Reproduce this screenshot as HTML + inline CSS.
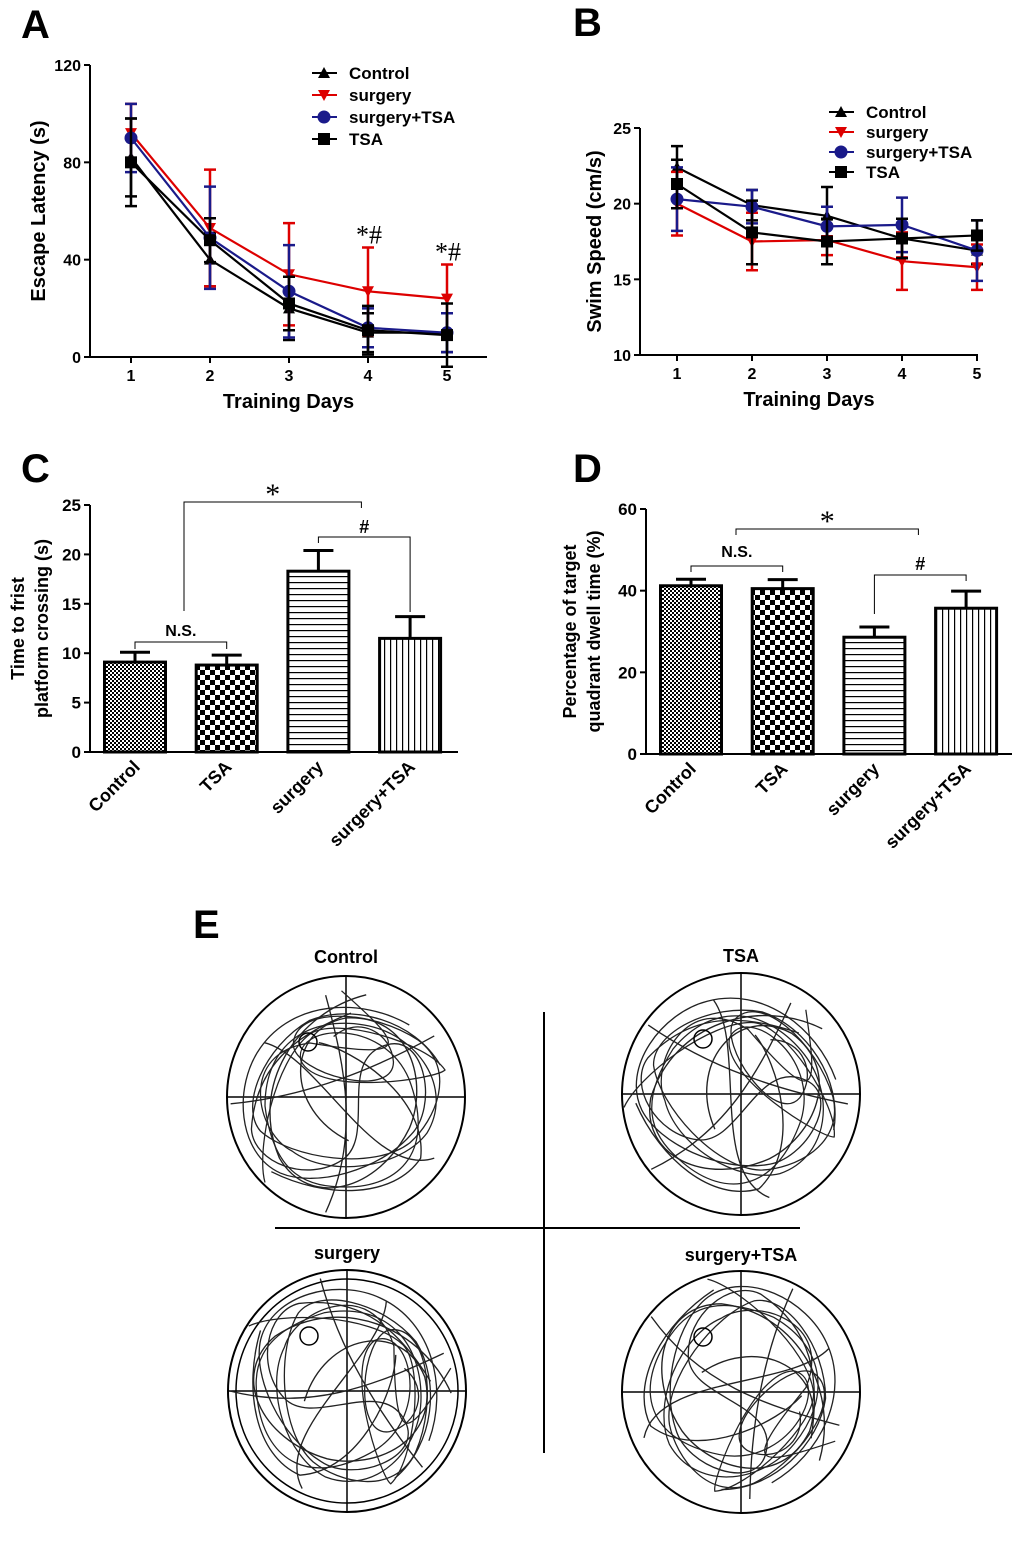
<!DOCTYPE html>
<html><head><meta charset="utf-8">
<style>
html,body{margin:0;padding:0;background:#fff;}
svg{display:block;font-family:"Liberation Sans",Arial,sans-serif;}
</style></head>
<body>
<svg id="fig" width="1020" height="1563" viewBox="0 0 1020 1563" xmlns="http://www.w3.org/2000/svg">
<defs>
  <pattern id="pFine" width="4" height="4" patternUnits="userSpaceOnUse"><rect width="4" height="4" fill="#fff"/><rect width="2" height="2" fill="#000"/><rect x="2" y="2" width="2" height="2" fill="#000"/></pattern>
  <pattern id="pCheck" width="10" height="10" patternUnits="userSpaceOnUse"><rect width="10" height="10" fill="#fff"/><rect width="5" height="5" fill="#000"/><rect x="5" y="5" width="5" height="5" fill="#000"/></pattern>
  <pattern id="pHor" width="6" height="6" patternUnits="userSpaceOnUse"><rect width="6" height="6" fill="#fff"/><rect y="0" width="6" height="1.2" fill="#000"/></pattern>
  <pattern id="pVer" width="6" height="6" patternUnits="userSpaceOnUse"><rect width="6" height="6" fill="#fff"/><rect x="0" width="1.2" height="6" fill="#000"/></pattern>
</defs>
<g font-weight="bold" font-size="40">
  <text x="21" y="38">A</text>
  <text x="573" y="36">B</text>
  <text x="21" y="482">C</text>
  <text x="573" y="482">D</text>
  <text x="193" y="938">E</text>
</g>
<g id="chartA"></g>
<g id="chartB"></g>
<g id="chartC"></g>
<g id="chartD"></g>
<g id="panelE"></g>
</svg>
<script>
// ---- Panel A data ----
const daysA = [1,2,3,4,5];
const aControl = [82,40,20,10,10];
const aSurgery = [92,53,34,27,24];
const aSurgTSA = [90,49,27,12,10];
const aTSA = [80,48,22,11,9];
const aControlErr = [16,11,13,8,8];
const aSurgeryErr = [12,24,21,18,14];
const aSurgTSAErr = [14,21,19,8,8];
const aTSAErr = [18,9,11,10,13];
const aTicks = [0,40,80,120];
// ---- Panel B data ----
const bControl = [22.4,19.9,19.2,17.7,16.9];
const bSurgery = [20.0,17.5,17.6,16.2,15.8];
const bSurgTSA = [20.3,19.8,18.5,18.6,16.9];
const bTSA = [21.3,18.1,17.5,17.7,17.9];
const bControlErr = [1.4,1.0,1.9,1.3,0.9];
const bSurgeryErr = [2.1,1.9,1.0,1.9,1.5];
const bSurgTSAErr = [2.1,1.1,1.3,1.8,2.0];
const bTSAErr = [1.6,2.1,1.5,1.3,1.0];
const bTicks = [10,15,20,25];
// ---- Panel C/D data ----
const barCats = ["Control","TSA","surgery","surgery+TSA"];
const cVals = [9.1,8.8,18.3,11.5];
const cErr = [1.0,1.0,2.1,2.2];
const cTicks = [0,5,10,15,20,25];
const dVals = [41.2,40.5,28.6,35.7];
const dErr = [1.6,2.2,2.5,4.2];
const dTicks = [0,20,40,60];
const legendNames = ["Control","surgery","surgery+TSA","TSA"];

const NS="http://www.w3.org/2000/svg";
function mk(parent,tag,attrs,text){const e=document.createElementNS(NS,tag);for(const k in attrs)e.setAttribute(k,attrs[k]);if(text!==undefined)e.textContent=text;parent.appendChild(e);return e;}

function marker(g,type,x,y,color){
  let m;
  if(type==="tri") m=mk(g,"polygon",{points:`${x},${y-6} ${x-6},${y+5} ${x+6},${y+5}`,fill:color});
  else if(type==="inv") m=mk(g,"polygon",{points:`${x},${y+6} ${x-6},${y-5} ${x+6},${y-5}`,fill:color});
  else if(type==="circ") m=mk(g,"circle",{cx:x,cy:y,r:6.5,fill:color});
  else m=mk(g,"rect",{x:x-6,y:y-6,width:12,height:12,fill:color});
  
  
  return m;
}

function lineChart(id,cfg){
  const g=document.getElementById(id);
  const X=d=>cfg.x0+(d-1)*cfg.dx;
  const Y=v=>cfg.yb-(v-cfg.ymin)/(cfg.ymax-cfg.ymin)*(cfg.yb-cfg.yt);
  const ax=mk(g,"path",{d:`M${cfg.ax},${cfg.yt}V${cfg.yb}H${cfg.xend}`,stroke:"#000","stroke-width":2,fill:"none"});
  
  
  cfg.ticks.forEach(t=>{
    mk(g,"line",{x1:cfg.ax-6,x2:cfg.ax,y1:Y(t),y2:Y(t),stroke:"#000","stroke-width":2});
    const tl=mk(g,"text",{x:cfg.ax-9,y:Y(t)+6,"text-anchor":"end","font-size":16,"font-weight":"bold"},String(t));
    
    
  });
  daysA.forEach(d=>{
    mk(g,"line",{x1:X(d),x2:X(d),y1:cfg.yb,y2:cfg.yb+6,stroke:"#000","stroke-width":2});
    const tl=mk(g,"text",{x:X(d),y:cfg.yb+24,"text-anchor":"middle","font-size":16,"font-weight":"bold"},String(d));
    
    
  });
  const xt=mk(g,"text",{x:(cfg.ax+cfg.xend)/2,y:cfg.yb+51,"text-anchor":"middle","font-size":20,"font-weight":"bold"},"Training Days");
  
  
  const yt=mk(g,"text",{transform:`translate(${cfg.ytx},${(cfg.yt+cfg.yb)/2}) rotate(-90)`,"text-anchor":"middle","font-size":20,"font-weight":"bold"},cfg.ytitle);
  
  
  cfg.series.forEach((s,si)=>{
    const sg=mk(g,"g",{});
    
    
    s.vals.forEach((v,i)=>{
      const x=X(daysA[i]),yh=Y(v+s.err[i]),yl=Y(v-s.err[i]);
      mk(sg,"path",{d:`M${x},${yh}V${yl}M${x-6},${yh}H${x+6}M${x-6},${yl}H${x+6}`,stroke:s.color,"stroke-width":2.5,fill:"none"});
    });
    mk(sg,"polyline",{points:s.vals.map((v,i)=>X(daysA[i])+","+Y(v)).join(" "),stroke:s.color,"stroke-width":2.2,fill:"none"});
    s.vals.forEach((v,i)=>marker(sg,s.m,X(daysA[i]),Y(v),s.color));
  });
  cfg.series.forEach((s,si)=>{
    const ly=cfg.ly+si*cfg.lsp;
    const lg=mk(g,"g",{});
    
    
    mk(lg,"line",{x1:cfg.lx,x2:cfg.lx+25,y1:ly,y2:ly,stroke:s.color,"stroke-width":2});
    marker(lg,s.m,cfg.lx+12,ly,s.color);
    mk(lg,"text",{x:cfg.lx+37,y:ly+6,"font-size":17,"font-weight":"bold"},legendNames[si]);
  });
  return {X,Y};
}

const sA=[{vals:aControl,err:aControlErr,color:"#000",m:"tri"},{vals:aSurgery,err:aSurgeryErr,color:"#d00",m:"inv"},{vals:aSurgTSA,err:aSurgTSAErr,color:"#1a1a8a",m:"circ"},{vals:aTSA,err:aTSAErr,color:"#000",m:"sq"}];
const A=lineChart("chartA",{x0:131,dx:79,ax:90,xend:487,yt:65,yb:357,ymin:0,ymax:120,ticks:aTicks,ytitle:"Escape Latency (s)",ytx:45,series:sA,lx:312,ly:73,lsp:22});
const gA=document.getElementById("chartA");
[[4,aSurgery[3]+aSurgeryErr[3]],[5,aSurgery[4]+aSurgeryErr[4]]].forEach(p=>{
  const t=mk(gA,"text",{x:A.X(p[0])+1,y:A.Y(p[1])-4,"text-anchor":"middle","font-size":26,"font-family":"Liberation Serif, serif"},"*#");
  
  
});
const sB=[{vals:bControl,err:bControlErr,color:"#000",m:"tri"},{vals:bSurgery,err:bSurgeryErr,color:"#d00",m:"inv"},{vals:bSurgTSA,err:bSurgTSAErr,color:"#1a1a8a",m:"circ"},{vals:bTSA,err:bTSAErr,color:"#000",m:"sq"}];
lineChart("chartB",{x0:677,dx:75,ax:640,xend:978,yt:128,yb:355,ymin:10,ymax:25,ticks:bTicks,ytitle:"Swim Speed (cm/s)",ytx:601,series:sB,lx:829,ly:112,lsp:20});

const fills=["url(#pFine)","url(#pCheck)","url(#pHor)","url(#pVer)"];
function barChart(id,cfg){
  const g=document.getElementById(id);
  const Y=v=>cfg.yb-(v/cfg.ymax)*(cfg.yb-cfg.yt);
  const cx=i=>cfg.b0+i*cfg.bs;
  const ax=mk(g,"path",{d:`M${cfg.ax},${cfg.yt}V${cfg.yb}H${cfg.xend}`,stroke:"#000","stroke-width":2,fill:"none"});
  
  
  cfg.ticks.forEach(t=>{
    mk(g,"line",{x1:cfg.ax-6,x2:cfg.ax,y1:Y(t),y2:Y(t),stroke:"#000","stroke-width":2});
    const tl=mk(g,"text",{x:cfg.ax-9,y:Y(t)+6,"text-anchor":"end","font-size":17,"font-weight":"bold"},String(t));
    
    
  });
  cfg.vals.forEach((v,i)=>{
    const x=cx(i),w=cfg.bw;
    const eb=mk(g,"path",{d:`M${x},${Y(v)}V${Y(v+cfg.err[i])}M${x-15},${Y(v+cfg.err[i])}H${x+15}`,stroke:"#000","stroke-width":3,fill:"none"});
    
    
    const r=mk(g,"rect",{x:x-w/2,y:Y(v),width:w,height:cfg.yb-Y(v),fill:fills[i],stroke:"#000","stroke-width":3});
    
    
    const tl=mk(g,"text",{transform:`translate(${x+6},${cfg.yb+16}) rotate(-45)`,"text-anchor":"end","font-size":18,"font-weight":"bold"},barCats[i]);
    
    
  });
  cfg.ylines.forEach((s,k)=>{
    const yt=mk(g,"text",{transform:`translate(${cfg.ytx+k*24},${(cfg.yt+cfg.yb)/2}) rotate(-90)`,"text-anchor":"middle","font-size":18,"font-weight":"bold"},s);
    
    
  });
  cfg.brackets.forEach(b=>{
    const x1=cx(b.a)+(b.oa||0),x2=cx(b.b)+(b.ob||0),y=b.y;
    const bg=mk(g,"g",{});
    
    
    mk(bg,"path",{d:`M${x1},${b.ya}V${y}H${x2}V${b.yb}`,stroke:"#000","stroke-width":1,fill:"none"});
    mk(bg,"text",{x:(x1+x2)/2,y:y-b.ty,"text-anchor":"middle","font-size":b.fs,"font-weight":b.bold?"bold":"normal","font-family":b.serif?"Liberation Serif, serif":"Liberation Sans, sans-serif"},b.label);
  });
}
barChart("chartC",{ax:90,xend:458,yt:505,yb:752,ymax:25,ticks:cTicks,vals:cVals,err:cErr,b0:135,bs:91.7,bw:61,ylines:["Time to frist","platform crossing (s)"],ytx:24,
  brackets:[{a:0,b:1,y:642,ya:649,yb:649,label:"N.S.",ty:6,fs:16,bold:true},{a:0,b:2,oa:49,ob:43,y:502,ya:611,yb:508,label:"*",ty:-2,fs:30,serif:true},{a:2,b:3,oa:0,ob:0,y:537,ya:543,yb:612,label:"#",ty:4,fs:18,bold:true}]});
barChart("chartD",{ax:646,xend:1012,yt:509,yb:754,ymax:60,ticks:dTicks,vals:dVals,err:dErr,b0:691,bs:91.7,bw:61,ylines:["Percentage of target","quadrant dwell time (%)"],ytx:576,
  brackets:[{a:0,b:1,y:566,ya:572,yb:572,label:"N.S.",ty:9,fs:16,bold:true},{a:0,b:2,oa:45,ob:44,y:529,ya:535,yb:535,label:"*",ty:-2,fs:30,serif:true},{a:2,b:3,y:575,ya:614,yb:581,label:"#",ty:5,fs:18,bold:true}]});

// ---- Panel E (illustrative trajectories) ----
const E=document.getElementById("panelE");
const pools=[{t:"Control",cx:346,cy:1097,ty:963},{t:"TSA",cx:741,cy:1094,ty:962},{t:"surgery",cx:347,cy:1391,ty:1259},{t:"surgery+TSA",cx:741,cy:1392,ty:1261}];
const sep1=mk(E,"line",{x1:275,x2:800,y1:1228,y2:1228,stroke:"#000","stroke-width":2});


const sep2=mk(E,"line",{x1:544,x2:544,y1:1012,y2:1453,stroke:"#000","stroke-width":2});


const paths=[
 "M-5,-118 C60,-60 80,-40 -40,-60 C-120,-50 -100,40 -60,60 C-20,90 60,80 90,40 C120,-10 80,-70 20,-80 C-40,-90 -90,-60 -90,10 C-80,90 -40,100 0,100 C60,100 100,60 70,-20 C40,-90 -60,-80 -50,-40 C-30,0 100,-20 110,-30 C90,-60 -10,-90 -40,-70 C-80,-40 -100,60 -90,95",
 "M-30,-60 C-10,-90 30,-80 40,-50 C50,-10 -60,-10 -70,-40 C-80,-80 0,-100 60,-80 C110,-60 100,0 80,30 C50,70 -40,80 -80,60 C-110,40 -100,-30 -60,-70 C-20,-100 50,-100 90,-60",
 "M-40,-80 C-80,-30 -100,20 -70,80 C-50,110 10,100 30,60 C50,20 -30,-30 10,-70 C40,-100 90,-40 80,0 C70,50 20,100 -20,105 C-70,110 -110,50 -105,0 C-100,-60 -40,-100 20,-100",
 "M-60,-20 C-30,-40 60,-60 100,-10 C110,40 60,90 0,110 M-100,20 C-50,-10 80,40 110,-20 M-90,-60 C-20,-20 40,20 70,100 M20,-110 C0,-40 -30,30 -80,90",
 "M-80,-70 C-100,0 -60,80 20,90 C80,90 100,20 60,-40 C30,-80 -40,-100 -70,-40 C-90,20 -20,60 40,20"
];
pools.forEach((p,i)=>{
  const pg=mk(E,"g",{});
  
  
  const tt=mk(pg,"text",{x:p.cx,y:p.ty,"text-anchor":"middle","font-size":18,"font-weight":"bold"},p.t);
  
  
  mk(pg,"ellipse",{cx:p.cx,cy:p.cy,rx:119,ry:121,fill:"none",stroke:"#000","stroke-width":2});
  if(i===2) mk(pg,"ellipse",{cx:p.cx,cy:p.cy,rx:111,ry:112,fill:"none",stroke:"#000","stroke-width":1.5});
  mk(pg,"line",{x1:p.cx-119,x2:p.cx+119,y1:p.cy,y2:p.cy,stroke:"#000","stroke-width":1.5});
  mk(pg,"line",{x1:p.cx,x2:p.cx,y1:p.cy-121,y2:p.cy+121,stroke:"#000","stroke-width":1.5});
  const tr=mk(pg,"g",{transform:`translate(${p.cx},${p.cy})`,stroke:"#222","stroke-width":1.4,fill:"none"});
  
  
  paths.forEach((d,k)=>mk(tr,"path",{d:d,transform:`rotate(${i*40+k*15}) scale(${0.9+0.02*k})`}));
  mk(tr,"circle",{cx:-38,cy:-55,r:9,stroke:"#000","stroke-width":1.5});
});
</script>
</body></html>
